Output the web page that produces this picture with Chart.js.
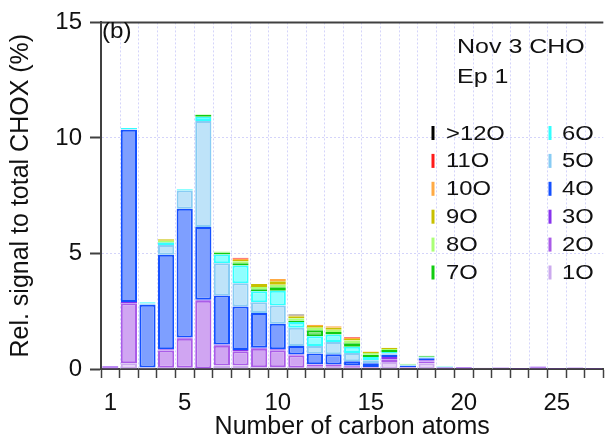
<!DOCTYPE html>
<html>
<head>
<meta charset="utf-8">
<script src="https://cdn.jsdelivr.net/npm/chart.js@4/dist/chart.umd.min.js"></script>
<style>
  html, body { margin: 0; padding: 0; background: #fff; }
  canvas { display: block; }
</style>
</head>
<body>
<canvas id="oxygenChart" width="605" height="442"></canvas>
<script>
// carbon numbers on the x axis
const carbonNumbers = ['1','2','3','4','5','6','7','8','9','10','11','12','13','14','15','16','17','18','19','20','21','22','23','24','25','26','27'];
const labeledTicks = ['1', '5', '10', '15', '20', '25'];

// relative signal (%) per oxygen number, C1 .. C27
const o1  = [0, 0.25, 0.05, 0.05, 0.05, 0.02, 0.15, 0.15, 0.08, 0.08, 0.05, 0.10, 0.10, 0.05, 0.03, 0.30, 0.03, 0.24, 0, 0, 0.03, 0, 0, 0, 0, 0, 0];
const o2  = [0.05, 2.60, 0.02, 0.75, 1.26, 2.93, 0.86, 0.62, 0.80, 0.73, 0.54, 0.08, 0.07, 0.05, 0.03, 0.12, 0.03, 0.08, 0.04, 0.04, 0.02, 0.03, 0.02, 0.05, 0.02, 0.03, 0.02];
const o3  = [0.07, 0.05, 0, 0.05, 0.05, 0.05, 0.05, 0.05, 0.04, 0.04, 0.04, 0.03, 0.03, 0.05, 0.03, 0.10, 0.03, 0.06, 0.03, 0.04, 0, 0.04, 0.02, 0.06, 0.02, 0.03, 0.02];
const o4  = [0, 7.45, 2.71, 4.09, 5.57, 3.15, 2.12, 1.89, 1.50, 1.11, 0.36, 0.46, 0.44, 0.19, 0.16, 0.10, 0.04, 0.08, 0.02, 0, 0, 0, 0, 0, 0, 0, 0];
const o5  = [0, 0.03, 0.05, 0.43, 0.79, 4.58, 1.40, 1.00, 0.47, 0.79, 0.80, 0.32, 0.53, 0.35, 0.13, 0.06, 0.03, 0.04, 0, 0, 0, 0, 0, 0, 0, 0, 0];
const o6  = [0, 0.05, 0.06, 0.10, 0.06, 0.19, 0.38, 0.77, 0.47, 0.64, 0.24, 0.43, 0.32, 0.27, 0.14, 0.06, 0.02, 0.03, 0.02, 0, 0, 0, 0, 0, 0, 0, 0];
const o7  = [0, 0, 0, 0.03, 0, 0.08, 0.08, 0.10, 0.09, 0.15, 0.07, 0.26, 0.11, 0.15, 0.10, 0.08, 0.03, 0.04, 0.01, 0, 0, 0, 0, 0, 0, 0, 0];
const o8  = [0, 0, 0, 0.05, 0, 0.03, 0.04, 0.08, 0.10, 0.11, 0.10, 0.10, 0.10, 0.12, 0.07, 0.05, 0.02, 0, 0, 0, 0, 0, 0, 0, 0, 0, 0];
const o9  = [0, 0, 0, 0.07, 0, 0, 0, 0.06, 0.13, 0.15, 0.08, 0.08, 0.08, 0.07, 0.05, 0.05, 0, 0, 0, 0, 0, 0, 0, 0, 0, 0, 0];
const o10 = [0, 0, 0, 0, 0, 0, 0, 0.05, 0, 0.10, 0.04, 0.06, 0.07, 0.04, 0.02, 0, 0, 0, 0, 0, 0, 0, 0, 0, 0, 0, 0];
const o11 = [0, 0, 0, 0, 0, 0, 0, 0.04, 0, 0, 0, 0, 0, 0.03, 0, 0, 0, 0, 0, 0, 0, 0, 0, 0, 0, 0, 0];
const o12 = [0, 0, 0, 0, 0, 0, 0, 0, 0, 0, 0.04, 0, 0, 0, 0, 0, 0, 0, 0, 0, 0, 0, 0, 0, 0, 0, 0];

const seriesNames = ['1O', '2O', '3O', '4O', '5O', '6O', '7O', '8O', '9O', '10O', '11O', '>12O'];
const seriesData = [o1, o2, o3, o4, o5, o6, o7, o8, o9, o10, o11, o12];
const seriesColors = ['#ccaaee', '#aa5ce8', '#8833ee', '#1450ff', '#88ccf4', '#33ffff',
                      '#11cc11', '#aaff77', '#c8c000', '#ffaa44', '#ff1a1a', '#000000'];

// lighter, opaque fill for each bar segment
function lighten(hex, k) {
  const n = parseInt(hex.slice(1), 16);
  const ch = [(n >> 16) & 255, (n >> 8) & 255, n & 255].map(c => Math.round(c * k + 255 * (1 - k)));
  return `rgb(${ch[0]},${ch[1]},${ch[2]})`;
}

const datasets = seriesNames.map((name, i) => ({
  label: name,
  data: seriesData[i].map(v => (v > 0 ? v : null)),
  backgroundColor: lighten(seriesColors[i], 0.55),
  borderColor: seriesColors[i],
  borderWidth: 2,
  borderSkipped: false,
  categoryPercentage: 1.0,
  barPercentage: 0.87
}));

const axisColor = '#404040';
const gridColor = '#d4d4fa';
const textFont = '"Liberation Sans", Arial, sans-serif';

// text drawn a little wider than the plain font
function wideText(ctx, text, x, y, stretch) {
  ctx.save();
  ctx.translate(x, y);
  ctx.scale(stretch, 1);
  ctx.fillText(text, 0, 0);
  ctx.restore();
}

// dotted separators between carbon numbers, top frame, legend and labels
const decorations = {
  id: 'decorations',
  beforeDatasetsDraw(chart) {
    const { ctx, chartArea: a, scales: { x } } = chart;
    ctx.save();
    ctx.strokeStyle = gridColor;
    ctx.lineWidth = 1;
    ctx.setLineDash([2, 2]);
    for (let k = 1; k < carbonNumbers.length; k++) {
      const px = Math.round((x.getPixelForTick(k - 1) + x.getPixelForTick(k)) / 2) + 0.5;
      ctx.beginPath();
      ctx.moveTo(px, a.top);
      ctx.lineTo(px, a.bottom);
      ctx.stroke();
    }
    ctx.restore();
  },
  afterDraw(chart) {
    const { ctx, chartArea: a } = chart;
    ctx.save();
    ctx.strokeStyle = axisColor;
    ctx.lineWidth = 2;
    ctx.beginPath();
    ctx.moveTo(a.left, a.top);
    ctx.lineTo(a.right, a.top);
    ctx.stroke();

    ctx.fillStyle = '#111';
    ctx.textBaseline = 'alphabetic';
    ctx.font = '22px ' + textFont;
    wideText(ctx, '(b)', 102, 38, 1.1);
    ctx.font = '21px ' + textFont;
    wideText(ctx, 'Nov 3 CHO', 457, 53, 1.19);
    wideText(ctx, 'Ep 1', 457, 83, 1.19);

    // two-column legend, highest oxygen number first
    const cols = [
      { marker: 433, text: 446, names: ['>12O', '11O', '10O', '9O', '8O', '7O'] },
      { marker: 550, text: 562, names: ['6O', '5O', '4O', '3O', '2O', '1O'] }
    ];
    ctx.font = '20px ' + textFont;
    ctx.textBaseline = 'middle';
    cols.forEach(col => {
      col.names.forEach((name, r) => {
        const ds = chart.data.datasets.find(d => d.label === name);
        const cy = 133 + r * 27.9;
        ctx.fillStyle = ds.borderColor;
        ctx.fillRect(col.marker - 1.5, cy - 7, 3, 14);
        ctx.fillStyle = '#111';
        wideText(ctx, ds.label, col.text, cy + 1, 1.19);
      });
    });
    ctx.restore();
  }
};

new Chart(document.getElementById('oxygenChart'), {
  type: 'bar',
  data: { labels: carbonNumbers, datasets: datasets },
  options: {
    responsive: false,
    animation: false,
    devicePixelRatio: 1,
    layout: { padding: { top: 20, right: 0, left: 0, bottom: 0 } },
    plugins: { legend: { display: false }, tooltip: { enabled: false } },
    scales: {
      x: {
        stacked: true,
        offset: true,
        afterFit: s => { s.height = 73; },
        grid: { display: true, drawOnChartArea: false, tickLength: 9, tickColor: axisColor, tickWidth: 1.5 },
        border: { color: axisColor, width: 2 },
        ticks: {
          autoSkip: false,
          maxRotation: 0,
          padding: 11,
          color: '#111',
          font: { family: textFont, size: 24 },
          callback: function (value) {
            const lab = this.getLabelForValue(value);
            return labeledTicks.includes(lab) ? lab : '';
          }
        },
        title: {
          display: true,
          text: 'Number of carbon atoms',
          color: '#111',
          padding: { top: 0, bottom: 0 },
          font: { family: textFont, size: 25 }
        }
      },
      y: {
        stacked: true,
        min: 0,
        max: 15,
        afterFit: s => { s.width = 101; },
        grid: { color: gridColor, lineWidth: 1, tickLength: 11, tickColor: axisColor, tickWidth: 2 },
        border: { color: axisColor, width: 2, dash: [2, 2] },
        ticks: {
          stepSize: 5,
          padding: 8,
          color: '#111',
          font: { family: textFont, size: 24 }
        },
        title: {
          display: true,
          text: 'Rel. signal to total CHOX (%)',
          color: '#111',
          padding: { top: 6, bottom: 0 },
          font: { family: textFont, size: 25 }
        }
      }
    }
  },
  plugins: [decorations]
});
</script>
</body>
</html>
